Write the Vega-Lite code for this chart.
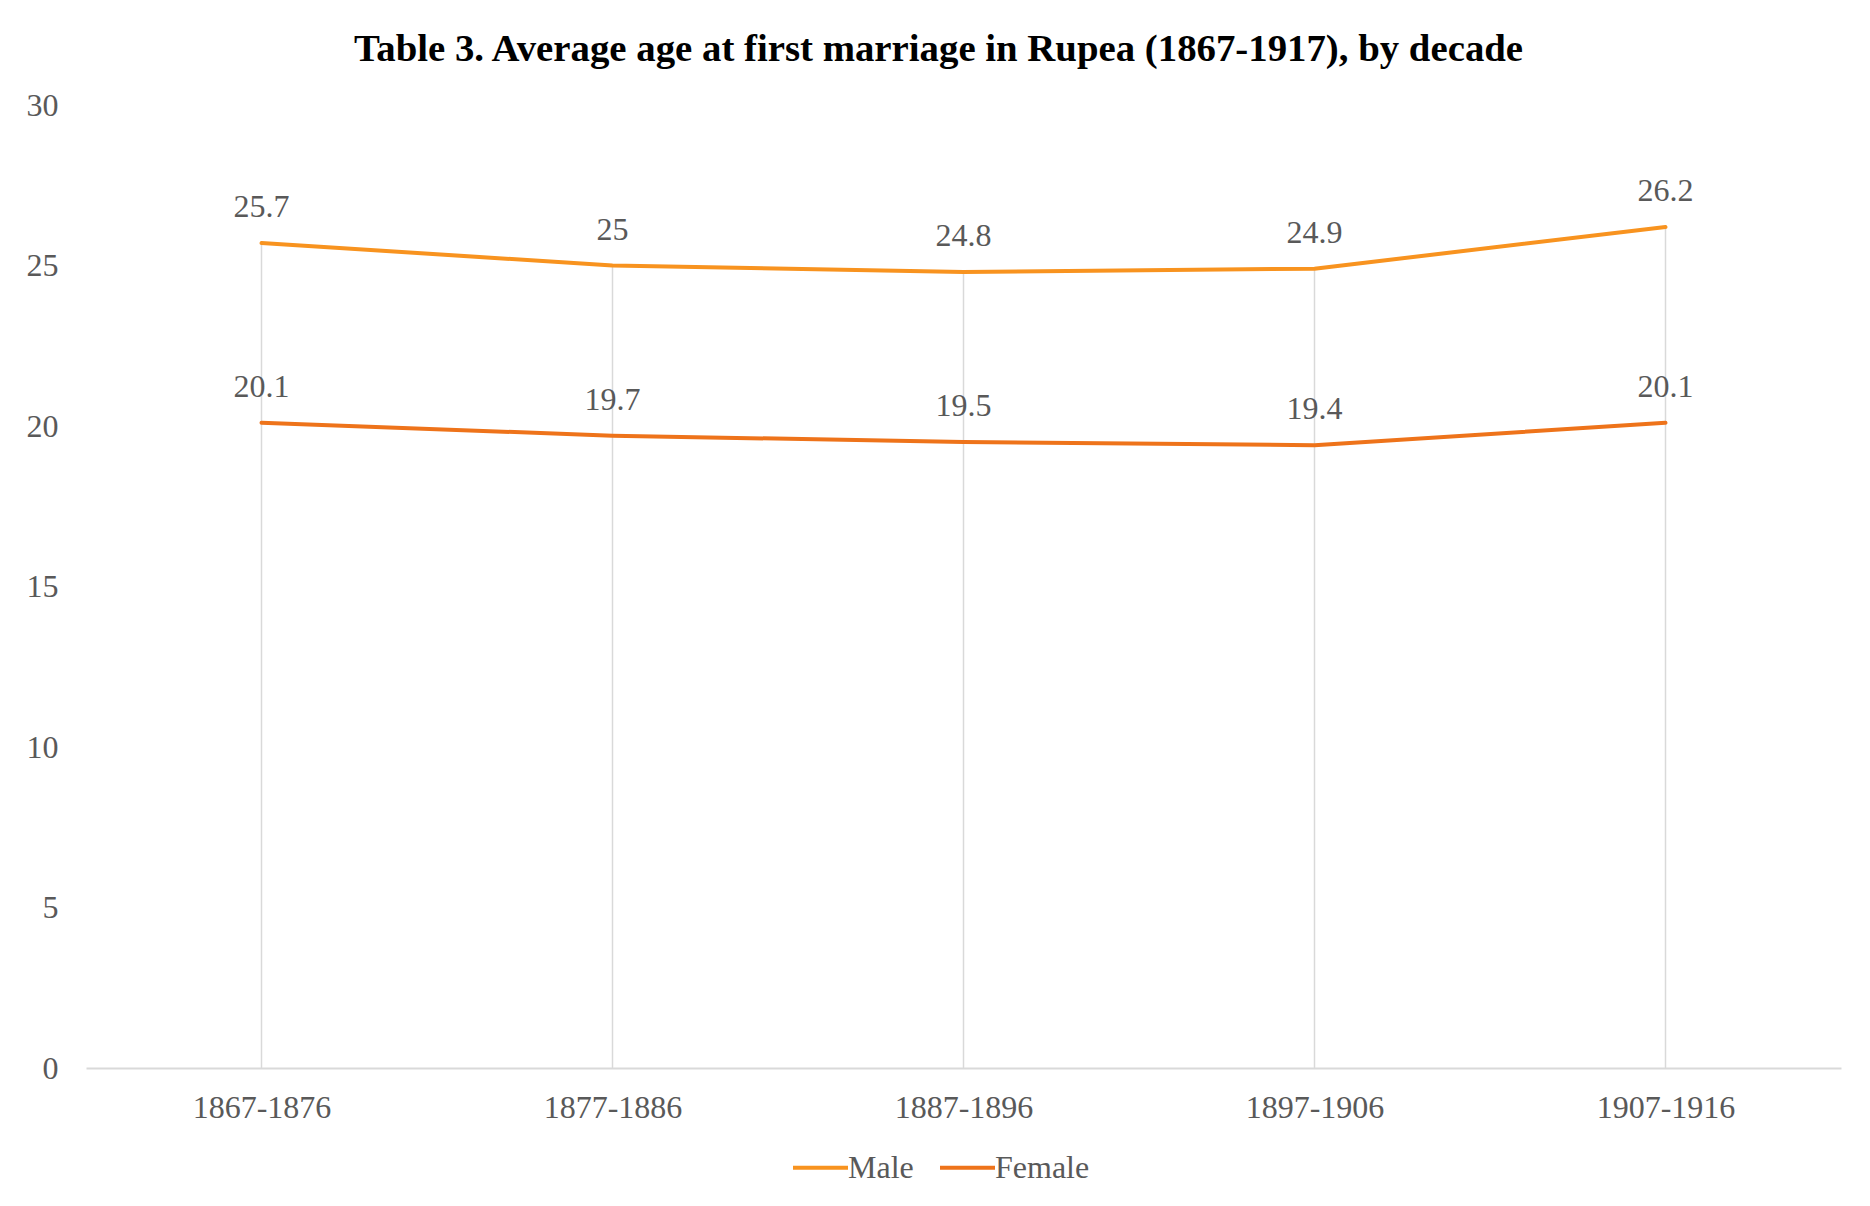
{
  "$schema": "https://vega.github.io/schema/vega-lite/v6.json",
  "autosize": {"type": "none"},
  "width": 1755,
  "height": 963,
  "padding": {"left": 86, "top": 105, "right": 29, "bottom": 138},
  "background": "white",
  "config": {
    "view": {"stroke": null},
    "font": "Liberation Serif"
  },
  "title": {
    "text": "Table 3. Average age at first marriage in Rupea (1867-1917), by decade",
    "font": "Liberation Serif",
    "fontSize": 38.8,
    "fontWeight": "bold",
    "color": "#000000",
    "anchor": "middle",
    "frame": "group",
    "dx": -25,
    "baseline": "alphabetic",
    "offset": -11
  },
  "data": {
    "values": [
      {"decade": "1867-1876", "series": "Male", "age": 25.7},
      {"decade": "1877-1886", "series": "Male", "age": 25.0},
      {"decade": "1887-1896", "series": "Male", "age": 24.8},
      {"decade": "1897-1906", "series": "Male", "age": 24.9},
      {"decade": "1907-1916", "series": "Male", "age": 26.2},
      {"decade": "1867-1876", "series": "Female", "age": 20.1},
      {"decade": "1877-1886", "series": "Female", "age": 19.7},
      {"decade": "1887-1896", "series": "Female", "age": 19.5},
      {"decade": "1897-1906", "series": "Female", "age": 19.4},
      {"decade": "1907-1916", "series": "Female", "age": 20.1}
    ]
  },
  "encoding": {
    "x": {
      "field": "decade",
      "type": "ordinal",
      "scale": {"type": "point", "padding": 0.5},
      "axis": {
        "title": null,
        "labelAngle": 0,
        "labelFont": "Liberation Serif",
        "labelFontSize": 32,
        "labelColor": "#595959",
        "labelPadding": 24,
        "ticks": false,
        "grid": false,
        "domain": true,
        "domainColor": "#d9d9d9",
        "domainWidth": 2
      }
    },
    "y": {
      "field": "age",
      "type": "quantitative",
      "scale": {"domain": [0, 30], "nice": false},
      "axis": {
        "title": null,
        "values": [0, 5, 10, 15, 20, 25, 30],
        "labelFont": "Liberation Serif",
        "labelFontSize": 32,
        "labelColor": "#595959",
        "labelPadding": 28,
        "ticks": false,
        "grid": false,
        "domain": false
      }
    }
  },
  "layer": [
    {
      "transform": [{"filter": "datum.series === 'Male'"}],
      "mark": {"type": "rule", "color": "#d9d9d9", "strokeWidth": 1.5},
      "encoding": {"y2": {"datum": 0}}
    },
    {
      "mark": {"type": "line", "strokeWidth": 4, "strokeCap": "round", "strokeJoin": "round"},
      "encoding": {
        "color": {
          "field": "series",
          "type": "nominal",
          "scale": {"domain": ["Male", "Female"], "range": ["#F8931F", "#EE731A"]},
          "legend": {
            "title": null,
            "orient": "none",
            "direction": "horizontal",
            "legendX": 705,
            "legendY": 1033,
            "symbolType": "stroke",
            "symbolSize": 3025,
            "symbolStrokeWidth": 4,
            "labelFont": "Liberation Serif",
            "labelFontSize": 32,
            "labelColor": "#595959",
            "labelOffset": -2,
            "columnPadding": 18,
            "padding": 0
          }
        }
      }
    },
    {
      "mark": {"type": "text", "dy": -26, "baseline": "alphabetic", "fontSize": 32, "font": "Liberation Serif", "color": "#595959"},
      "encoding": {"text": {"field": "age", "type": "quantitative"}}
    }
  ]
}
